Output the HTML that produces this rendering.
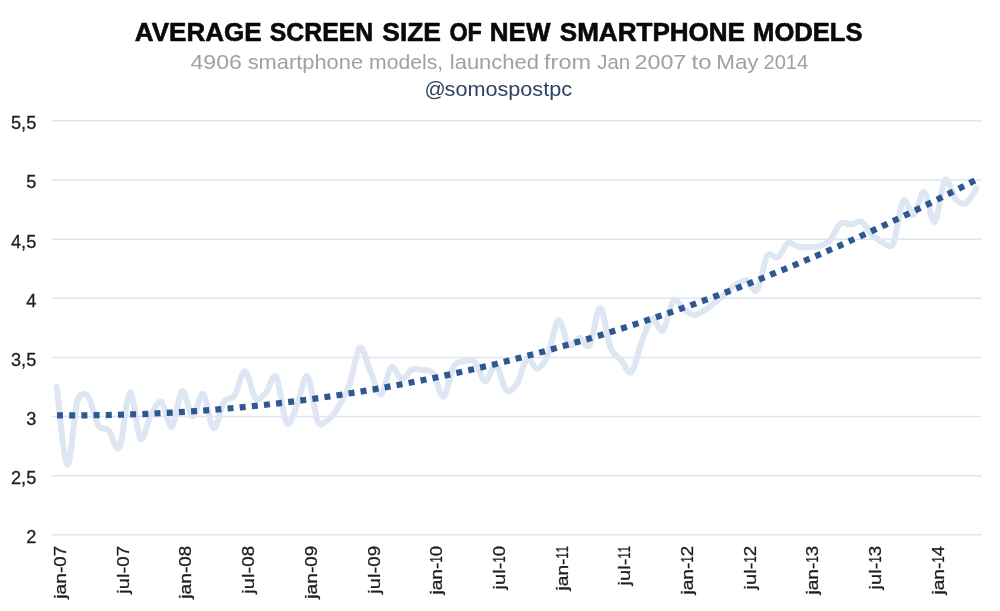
<!DOCTYPE html>
<html><head><meta charset="utf-8"><title>Average screen size of new smartphone models</title>
<style>
html,body{margin:0;padding:0;background:#fff;}
body{width:1000px;height:611px;overflow:hidden;font-family:"Liberation Sans",sans-serif;}
svg{display:block}
text{font-family:"Liberation Sans",sans-serif}
.t1{font-weight:bold;font-size:25px;fill:#0a0a0a;stroke:#0a0a0a;stroke-width:0.6px;stroke-linejoin:round}
.t2{font-size:20.3px;fill:#a0a0a0}
.t3{font-size:20.5px;fill:#2d3f63}
.yl{font-size:18.2px;fill:#1e1e1e;stroke:#1e1e1e;stroke-width:0.3px}
.xl{font-size:17px;fill:#1e1e1e;stroke:#1e1e1e;stroke-width:0.3px}
</style></head><body>
<svg width="1000" height="611" viewBox="0 0 1000 611">
<rect width="1000" height="611" fill="#fff"/>
<text class="t1" y="41"><tspan x="134.8" textLength="126.8" lengthAdjust="spacingAndGlyphs">AVERAGE</tspan> <tspan x="269.8" textLength="103.4" lengthAdjust="spacingAndGlyphs">SCREEN</tspan> <tspan x="382.3" textLength="58.7" lengthAdjust="spacingAndGlyphs">SIZE</tspan> <tspan x="449.4" textLength="32.5" lengthAdjust="spacingAndGlyphs">OF</tspan> <tspan x="489.8" textLength="60.7" lengthAdjust="spacingAndGlyphs">NEW</tspan> <tspan x="559.8" textLength="185.2" lengthAdjust="spacingAndGlyphs">SMARTPHONE</tspan> <tspan x="753.1" textLength="109.4" lengthAdjust="spacingAndGlyphs">MODELS</tspan></text>
<text class="t2" y="68.6"><tspan x="190.5" textLength="51.3" lengthAdjust="spacingAndGlyphs">4906</tspan> <tspan x="247.7" textLength="115.4" lengthAdjust="spacingAndGlyphs">smartphone</tspan> <tspan x="369.0" textLength="74.1" lengthAdjust="spacingAndGlyphs">models,</tspan> <tspan x="449.8" textLength="89.2" lengthAdjust="spacingAndGlyphs">launched</tspan> <tspan x="544.1" textLength="46.9" lengthAdjust="spacingAndGlyphs">from</tspan> <tspan x="597.3" textLength="32.8" lengthAdjust="spacingAndGlyphs">Jan</tspan> <tspan x="634.6" textLength="51.7" lengthAdjust="spacingAndGlyphs">2007</tspan> <tspan x="691.5" textLength="20.0" lengthAdjust="spacingAndGlyphs">to</tspan> <tspan x="716.2" textLength="42.4" lengthAdjust="spacingAndGlyphs">May</tspan> <tspan x="763.5" textLength="44.7" lengthAdjust="spacingAndGlyphs">2014</tspan></text>
<text class="t3" y="95.5"><tspan x="424.5" textLength="21.2" lengthAdjust="spacingAndGlyphs">@</tspan><tspan x="444.6" textLength="127.4" lengthAdjust="spacingAndGlyphs">somospostpc</tspan></text>
<g stroke="#dde5ef" stroke-width="1.5">
<line x1="51.6" x2="981.5" y1="120.8" y2="120.8"/>
<line x1="51.6" x2="981.5" y1="180.0" y2="180.0"/>
<line x1="51.6" x2="981.5" y1="239.2" y2="239.2"/>
<line x1="51.6" x2="981.5" y1="298.3" y2="298.3"/>
<line x1="51.6" x2="981.5" y1="357.4" y2="357.4"/>
<line x1="51.6" x2="981.5" y1="416.5" y2="416.5"/>
<line x1="51.6" x2="981.5" y1="475.7" y2="475.7"/>
<line x1="51.6" x2="981.5" y1="534.7" y2="534.7"/>
</g>
<text class="yl" x="36.3" y="129.2" text-anchor="end">5,5</text>
<text class="yl" x="36.3" y="188.4" text-anchor="end">5</text>
<text class="yl" x="36.3" y="247.6" text-anchor="end">4,5</text>
<text class="yl" x="36.3" y="306.7" text-anchor="end">4</text>
<text class="yl" x="36.3" y="365.8" text-anchor="end">3,5</text>
<text class="yl" x="36.3" y="424.9" text-anchor="end">3</text>
<text class="yl" x="36.3" y="484.1" text-anchor="end">2,5</text>
<text class="yl" x="36.3" y="543.1" text-anchor="end">2</text>
<text class="xl" transform="translate(66.0 545.9) rotate(-90)"><tspan x="-52.8" textLength="32.0" lengthAdjust="spacingAndGlyphs">jan-</tspan><tspan x="-20.8" textLength="10.4" lengthAdjust="spacingAndGlyphs">0</tspan><tspan x="-10.4" textLength="10.4" lengthAdjust="spacingAndGlyphs">7</tspan></text>
<text class="xl" transform="translate(128.7 545.9) rotate(-90)"><tspan x="-47.8" textLength="27.0" lengthAdjust="spacingAndGlyphs">jul-</tspan><tspan x="-20.8" textLength="10.4" lengthAdjust="spacingAndGlyphs">0</tspan><tspan x="-10.4" textLength="10.4" lengthAdjust="spacingAndGlyphs">7</tspan></text>
<text class="xl" transform="translate(191.4 545.9) rotate(-90)"><tspan x="-52.8" textLength="32.0" lengthAdjust="spacingAndGlyphs">jan-</tspan><tspan x="-20.8" textLength="10.4" lengthAdjust="spacingAndGlyphs">0</tspan><tspan x="-10.4" textLength="10.4" lengthAdjust="spacingAndGlyphs">8</tspan></text>
<text class="xl" transform="translate(254.1 545.9) rotate(-90)"><tspan x="-47.8" textLength="27.0" lengthAdjust="spacingAndGlyphs">jul-</tspan><tspan x="-20.8" textLength="10.4" lengthAdjust="spacingAndGlyphs">0</tspan><tspan x="-10.4" textLength="10.4" lengthAdjust="spacingAndGlyphs">8</tspan></text>
<text class="xl" transform="translate(316.8 545.9) rotate(-90)"><tspan x="-52.8" textLength="32.0" lengthAdjust="spacingAndGlyphs">jan-</tspan><tspan x="-20.8" textLength="10.4" lengthAdjust="spacingAndGlyphs">0</tspan><tspan x="-10.4" textLength="10.4" lengthAdjust="spacingAndGlyphs">9</tspan></text>
<text class="xl" transform="translate(379.5 545.9) rotate(-90)"><tspan x="-47.8" textLength="27.0" lengthAdjust="spacingAndGlyphs">jul-</tspan><tspan x="-20.8" textLength="10.4" lengthAdjust="spacingAndGlyphs">0</tspan><tspan x="-10.4" textLength="10.4" lengthAdjust="spacingAndGlyphs">9</tspan></text>
<text class="xl" transform="translate(442.2 545.9) rotate(-90)"><tspan x="-48.7" textLength="32.0" lengthAdjust="spacingAndGlyphs">jan-</tspan><tspan x="-16.7" textLength="6.3" lengthAdjust="spacingAndGlyphs">1</tspan><tspan x="-10.4" textLength="10.4" lengthAdjust="spacingAndGlyphs">0</tspan></text>
<text class="xl" transform="translate(504.9 545.9) rotate(-90)"><tspan x="-43.7" textLength="27.0" lengthAdjust="spacingAndGlyphs">jul-</tspan><tspan x="-16.7" textLength="6.3" lengthAdjust="spacingAndGlyphs">1</tspan><tspan x="-10.4" textLength="10.4" lengthAdjust="spacingAndGlyphs">0</tspan></text>
<text class="xl" transform="translate(567.6 545.9) rotate(-90)"><tspan x="-44.6" textLength="32.0" lengthAdjust="spacingAndGlyphs">jan-</tspan><tspan x="-12.6" textLength="6.3" lengthAdjust="spacingAndGlyphs">1</tspan><tspan x="-6.3" textLength="6.3" lengthAdjust="spacingAndGlyphs">1</tspan></text>
<text class="xl" transform="translate(630.3 545.9) rotate(-90)"><tspan x="-39.6" textLength="27.0" lengthAdjust="spacingAndGlyphs">jul-</tspan><tspan x="-12.6" textLength="6.3" lengthAdjust="spacingAndGlyphs">1</tspan><tspan x="-6.3" textLength="6.3" lengthAdjust="spacingAndGlyphs">1</tspan></text>
<text class="xl" transform="translate(693.0 545.9) rotate(-90)"><tspan x="-48.7" textLength="32.0" lengthAdjust="spacingAndGlyphs">jan-</tspan><tspan x="-16.7" textLength="6.3" lengthAdjust="spacingAndGlyphs">1</tspan><tspan x="-10.4" textLength="10.4" lengthAdjust="spacingAndGlyphs">2</tspan></text>
<text class="xl" transform="translate(755.7 545.9) rotate(-90)"><tspan x="-43.7" textLength="27.0" lengthAdjust="spacingAndGlyphs">jul-</tspan><tspan x="-16.7" textLength="6.3" lengthAdjust="spacingAndGlyphs">1</tspan><tspan x="-10.4" textLength="10.4" lengthAdjust="spacingAndGlyphs">2</tspan></text>
<text class="xl" transform="translate(818.4 545.9) rotate(-90)"><tspan x="-48.7" textLength="32.0" lengthAdjust="spacingAndGlyphs">jan-</tspan><tspan x="-16.7" textLength="6.3" lengthAdjust="spacingAndGlyphs">1</tspan><tspan x="-10.4" textLength="10.4" lengthAdjust="spacingAndGlyphs">3</tspan></text>
<text class="xl" transform="translate(881.1 545.9) rotate(-90)"><tspan x="-43.7" textLength="27.0" lengthAdjust="spacingAndGlyphs">jul-</tspan><tspan x="-16.7" textLength="6.3" lengthAdjust="spacingAndGlyphs">1</tspan><tspan x="-10.4" textLength="10.4" lengthAdjust="spacingAndGlyphs">3</tspan></text>
<text class="xl" transform="translate(943.8 545.9) rotate(-90)"><tspan x="-48.7" textLength="32.0" lengthAdjust="spacingAndGlyphs">jan-</tspan><tspan x="-16.7" textLength="6.3" lengthAdjust="spacingAndGlyphs">1</tspan><tspan x="-10.4" textLength="10.4" lengthAdjust="spacingAndGlyphs">4</tspan></text>
<path d="M56.8 387.0C58.5 399.9 63.8 462.4 67.2 464.5C70.7 466.6 74.2 410.9 77.7 399.5C79.3 394.3 84.8 392.0 88.1 396.3C91.6 400.7 95.1 420.1 98.6 425.8C101.6 430.7 105.6 427.1 109.0 430.7C112.5 434.3 116.0 453.8 119.5 447.4C123.0 441.0 126.5 393.9 129.9 392.4C133.4 390.9 136.9 434.8 140.4 438.6C143.9 442.4 147.4 421.1 150.8 415.0C154.3 408.9 157.8 400.2 161.3 402.2C164.8 404.2 168.3 428.6 171.8 426.8C175.2 425.0 178.7 392.9 182.2 391.2C185.7 389.5 189.2 415.9 192.6 416.4C196.1 416.8 199.6 391.9 203.1 393.9C206.6 395.9 210.1 426.9 213.6 428.2C217.0 429.5 220.5 407.1 224.0 401.7C227.3 396.7 231.1 400.7 234.4 395.8C237.9 390.7 241.4 371.0 244.9 371.3C248.4 371.6 251.9 394.2 255.3 397.8C258.8 401.4 262.3 396.4 265.8 392.9C269.3 389.4 272.8 371.7 276.2 376.8C279.7 381.9 283.2 418.7 286.7 423.3C290.2 427.9 293.7 412.6 297.1 404.7C300.6 396.8 304.1 373.3 307.6 376.2C311.1 379.1 314.6 415.1 318.1 422.3C320.4 427.2 325.0 422.0 328.5 419.3C332.0 416.6 335.5 411.8 338.9 406.0C342.4 400.2 345.9 394.5 349.4 384.8C352.9 375.1 356.4 350.0 359.8 347.7C363.3 345.4 366.8 363.2 370.3 371.0C373.8 378.8 377.3 395.3 380.8 394.7C384.2 394.1 387.7 369.8 391.2 367.2C394.7 364.6 398.2 378.6 401.6 379.0C405.1 379.4 408.6 371.0 412.1 369.5C415.6 368.0 419.1 369.5 422.6 370.1C426.0 370.7 429.6 368.7 433.0 373.0C436.5 377.4 440.0 397.7 443.4 396.6C446.9 395.5 450.4 372.1 453.9 366.2C456.8 361.2 460.9 361.9 464.3 361.2C467.8 360.4 471.3 358.3 474.8 361.7C478.3 365.1 481.8 380.9 485.2 381.4C488.7 381.9 492.2 363.3 495.7 364.7C499.2 366.1 502.7 386.7 506.1 390.0C509.6 393.3 513.3 389.4 516.6 384.5C520.1 379.3 523.6 361.4 527.0 358.8C530.5 356.2 534.0 369.3 537.5 368.6C541.0 367.9 544.5 362.7 547.9 354.8C551.4 346.8 554.9 322.1 558.4 320.5C561.9 318.9 565.4 342.1 568.8 345.0C572.3 347.9 575.8 338.1 579.3 338.1C582.8 338.1 586.3 350.1 589.7 345.0C593.2 339.9 596.7 307.3 600.2 307.8C603.7 308.3 607.2 339.3 610.6 348.0C613.6 355.5 617.6 356.2 621.1 360.2C624.6 364.2 628.1 375.2 631.5 372.0C635.0 368.8 638.5 349.9 642.0 341.0C645.5 332.1 649.0 320.2 652.4 318.5C655.9 316.8 659.4 333.7 662.9 330.7C666.4 327.7 669.9 303.9 673.3 300.3C676.8 296.7 680.3 306.7 683.8 309.1C687.3 311.6 690.8 314.8 694.2 315.0C697.7 315.2 701.2 312.2 704.7 310.1C708.2 308.0 711.7 305.0 715.1 302.2C718.6 299.4 722.1 296.2 725.6 293.3C729.1 290.4 732.6 286.6 736.0 284.5C739.5 282.4 743.0 279.6 746.5 280.5C750.0 281.4 753.5 294.4 756.9 290.2C760.4 286.0 763.9 261.0 767.4 255.5C770.2 251.0 774.4 259.4 777.8 257.3C781.3 255.2 784.8 244.7 788.3 243.0C791.8 241.3 795.3 246.3 798.7 247.0C802.2 247.7 805.7 247.2 809.2 247.0C812.7 246.8 816.2 247.2 819.6 246.0C823.1 244.8 826.6 243.8 830.1 240.1C833.6 236.4 837.1 226.2 840.5 223.6C844.0 221.0 847.5 224.8 851.0 224.5C854.5 224.2 858.0 220.2 861.4 221.8C864.9 223.4 868.4 230.9 871.9 234.3C875.4 237.7 878.9 240.6 882.3 242.3C885.8 244.0 890.4 249.0 892.8 244.3C896.3 237.4 899.8 206.0 903.2 201.1C906.7 196.2 910.2 216.3 913.7 214.8C917.2 213.3 920.7 191.0 924.1 192.2C927.6 193.3 931.1 223.8 934.6 221.7C938.1 219.6 941.6 183.7 945.0 179.9C948.5 176.1 952.0 195.2 955.5 199.1C959.0 202.9 962.5 204.8 965.9 203.0C969.4 201.2 974.7 190.8 976.4 188.3" fill="none" stroke="#dde6f2" stroke-width="6" stroke-linecap="round" stroke-linejoin="round"/>
<path d="M57.0 415.3L80.0 415.4L103.0 415.1L126.0 414.6L149.0 413.8L171.9 412.6L194.9 411.2L217.9 409.4L240.9 407.3L263.9 405.0L286.9 402.3L309.9 399.3L332.9 396.0L355.9 392.4L378.9 388.5L401.9 384.3L424.8 379.8L447.8 374.9L470.8 369.8L493.8 364.4L516.8 358.6L539.8 352.6L562.8 346.2L585.8 339.6L608.8 332.6L631.8 325.3L654.7 317.7L677.7 309.9L700.7 301.7L723.7 293.2L746.7 284.4L769.7 275.2L792.7 265.8L815.7 256.1L838.7 246.1L861.6 235.7L884.6 225.1L907.6 214.1L930.6 202.9L953.6 191.3L976.6 179.5" fill="none" stroke="#2d5890" stroke-width="6.2" stroke-dasharray="6 6.195"/>
</svg>
</body></html>
